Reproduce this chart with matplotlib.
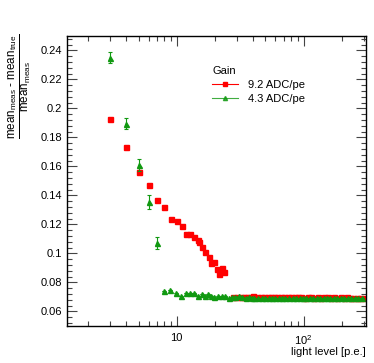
import numpy as np
import matplotlib
matplotlib.use("Agg")
import matplotlib.pyplot as plt
from matplotlib.lines import Line2D
from matplotlib.ticker import FixedLocator, FuncFormatter, NullFormatter

plt.rcParams['font.family'] = ['Liberation Sans', 'DejaVu Sans']
plt.rcParams['mathtext.fontset'] = 'custom'
plt.rcParams['mathtext.rm'] = 'Liberation Sans'
plt.rcParams['mathtext.it'] = 'Liberation Sans'

# gain 9.2 ADC/pe (red squares)
red_x = [3, 4, 5, 6, 7, 8, 9, 10, 11, 11.8, 12.7, 13.8, 14.8, 15.0, 15.7, 16.8,
         17.8, 18.7, 19.8, 20.7, 21.7, 22.6, 23.8,
         28, 30, 32, 34, 36, 38, 40, 43, 46, 49, 52, 55, 58, 62, 66, 70, 75, 80,
         85, 90, 96, 102, 108, 115, 122, 130, 138, 146, 155, 165, 175, 185, 196,
         208, 220, 233, 247, 262, 278, 298]
red_y = [0.193, 0.1732, 0.1562, 0.1475, 0.137, 0.132, 0.124, 0.1222, 0.1192,
         0.1135, 0.1135, 0.1114, 0.1095, 0.1079, 0.1042, 0.1010, 0.0975, 0.0934,
         0.0941, 0.0893, 0.0858, 0.0900, 0.0869,
         0.0698, 0.0702, 0.0700, 0.0703, 0.0699, 0.0701, 0.0704, 0.0700, 0.0698,
         0.0702, 0.0700, 0.0697, 0.0701, 0.0699, 0.0702, 0.0698, 0.0700, 0.0697,
         0.0699, 0.0701, 0.0698, 0.0696, 0.0699, 0.0697, 0.0695, 0.0698, 0.0696,
         0.0699, 0.0697, 0.0695, 0.0697, 0.0696, 0.0698, 0.0695, 0.0697, 0.0694,
         0.0696, 0.0695, 0.0693, 0.0692]

# gain 4.3 ADC/pe (green triangles)
green_x = [3, 4, 5, 6, 7, 8.0, 8.9, 9.9, 10.8, 11.8, 12.7, 13.7, 14.8, 15.7, 16.7,
           17.7, 18.6, 19.8, 21.3, 22.6, 24, 25.8, 27.5,
           29, 31, 33, 35, 37, 39, 41, 44, 47, 50, 53, 56, 60, 64, 68, 72, 77, 82,
           87, 93, 99, 105, 112, 119, 127, 135, 144, 153, 163, 174, 185, 197, 210,
           224, 238, 253, 269, 288]
green_y = [0.235, 0.1896, 0.1608, 0.1356, 0.1072, 0.0743, 0.0750, 0.0727, 0.0704,
           0.0727, 0.0727, 0.0727, 0.0708, 0.0720, 0.0704, 0.0720, 0.0708, 0.0697,
           0.0708, 0.0708, 0.0704, 0.0690, 0.0697,
           0.0700, 0.0704, 0.0697, 0.0694, 0.0698, 0.0693, 0.0696, 0.0694, 0.0692,
           0.0695, 0.0693, 0.0696, 0.0692, 0.0694, 0.0691, 0.0693, 0.0695, 0.0692,
           0.0694, 0.0691, 0.0693, 0.0692, 0.0694, 0.0691, 0.0693, 0.0692, 0.0690,
           0.0693, 0.0691, 0.0692, 0.0690, 0.0692, 0.0691, 0.0693, 0.0690, 0.0692,
           0.0691, 0.0690]
green_err = [0.004, 0.004, 0.0042, 0.0048, 0.0044] + [0.0] * (len(green_x) - 5)

red_col = '#ff0000'
green_col = '#119911'

fig = plt.figure(figsize=(3.74, 3.63), dpi=100)
ax = fig.add_axes([0.179, 0.102, 0.800, 0.799])

ax.plot(red_x, red_y, ls='none', marker='s', ms=3.6, color=red_col, mec=red_col)
ax.errorbar(green_x, green_y, yerr=green_err, ls='none', marker='^', ms=3.6,
            color=green_col, ecolor=green_col, elinewidth=0.8, capsize=1.5,
            capthick=0.8)

ax.set_xscale('log')
ax.set_xlim(1.36, 312)
ax.set_ylim(0.05, 0.25)

ax.xaxis.set_major_locator(FixedLocator([10, 100]))
ax.xaxis.set_major_formatter(FuncFormatter(lambda v, p: '10' if v < 50 else r'$10^2$'))
ax.xaxis.set_minor_locator(FixedLocator([2, 3, 4, 5, 6, 7, 8, 9, 20, 30, 40, 50,
                                         60, 70, 80, 90, 200, 300]))
ax.xaxis.set_minor_formatter(NullFormatter())
ax.yaxis.set_major_locator(FixedLocator(np.arange(0.06, 0.2401, 0.02)))
ax.yaxis.set_minor_locator(FixedLocator(np.arange(0.052, 0.25, 0.004)))
ax.yaxis.set_major_formatter(FuncFormatter(lambda v, p: '%g' % round(v, 3)))

ax.tick_params(which='both', direction='in', top=True, right=True,
               labelsize=8, color='#444444', width=0.8)
ax.tick_params(which='major', length=7)
ax.tick_params(which='minor', length=3.5)
ax.tick_params(axis='x', pad=5)
for s in ax.spines.values():
    s.set_linewidth(1.0)

ax.set_xlabel('light level [p.e.]', fontsize=8, loc='right', labelpad=0)
fig.text(0.051, 0.763,
         r'$\frac{\mathrm{mean_{meas}\ \text{-}\ mean_{true}}}{\mathrm{mean_{meas}}}$',
         rotation=90, ha='center', va='center', fontsize=12)

handles = [Line2D([], [], color=red_col, lw=0.8, marker='s', ms=3),
           Line2D([], [], color=green_col, lw=0.8, marker='^', ms=3, alpha=0.8)]
leg = ax.legend(handles, ['9.2 ADC/pe', '4.3 ADC/pe'], title='Gain',
                loc='upper left', bbox_to_anchor=(0.47, 0.91), frameon=False,
                fontsize=8, title_fontsize=8, handlelength=2.3,
                handletextpad=0.9, labelspacing=0.35, borderaxespad=0)
leg._legend_box.align = 'left'

fig.savefig('out.png', dpi=100)
